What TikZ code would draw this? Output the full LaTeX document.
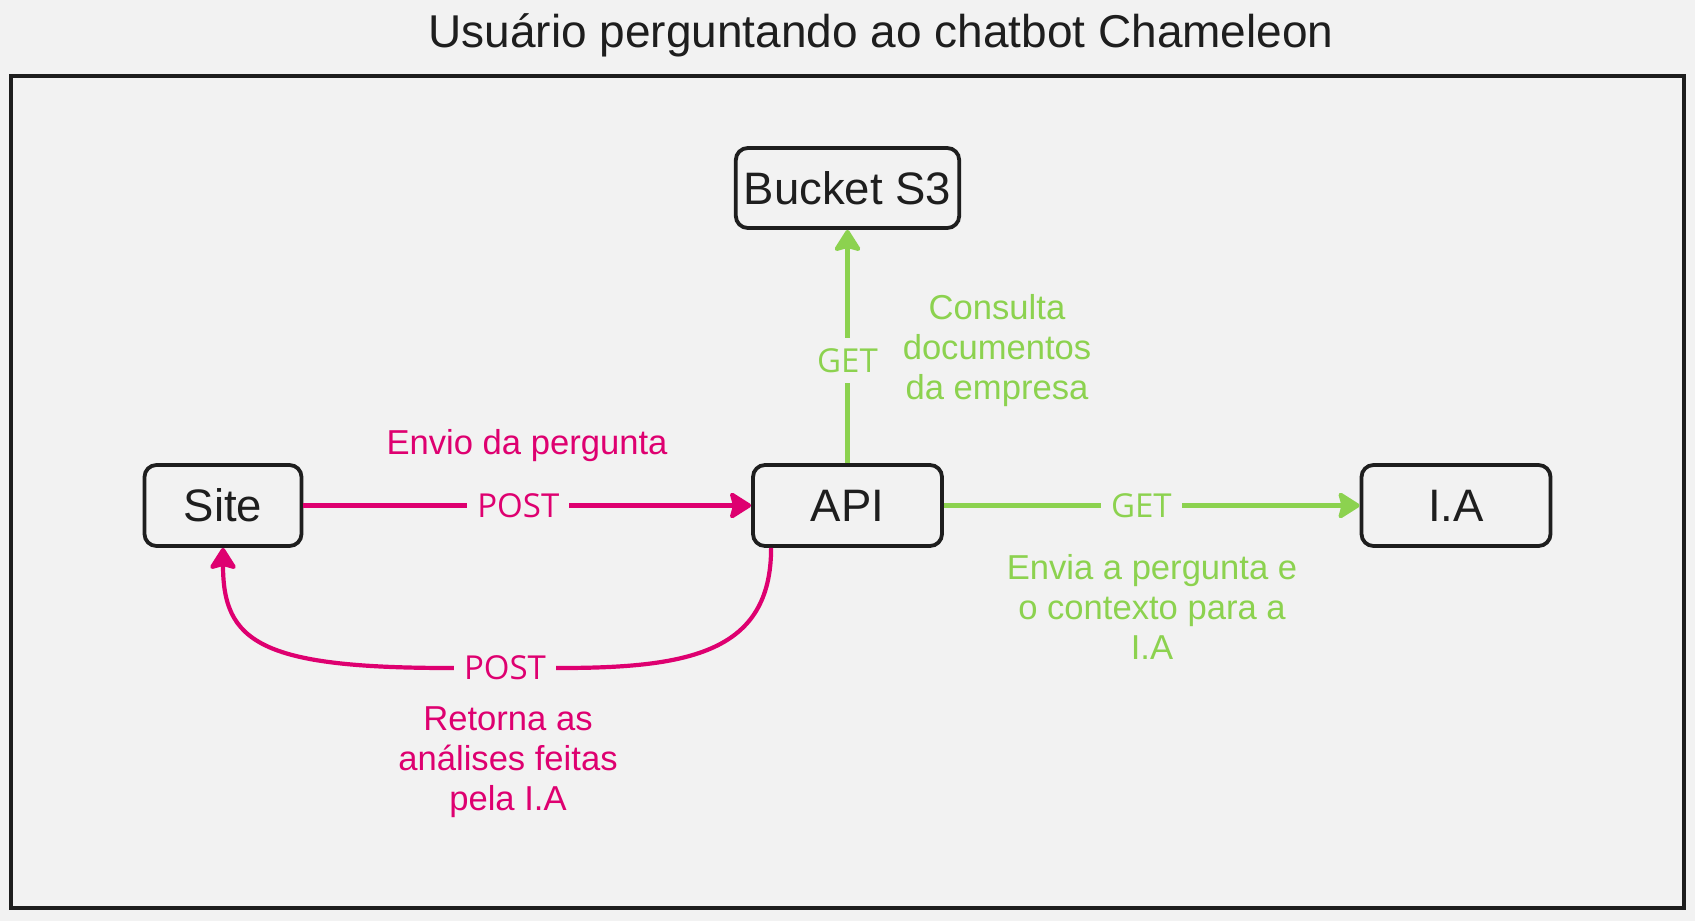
\documentclass[tikz,border=0pt]{standalone}
\usepackage{fontspec}
\setmainfont{Liberation Sans}
\newfontfamily\methodfont{Open Sans}
\usetikzlibrary{arrows.meta,calc,positioning}
\definecolor{bgpaper}{HTML}{F2F2F2}
\definecolor{boxline}{HTML}{1E1E1E}
\definecolor{postpink}{HTML}{DE0070}
\definecolor{getgreen}{HTML}{8CD24F}

\begin{document}
\begin{tikzpicture}[x=0.5pt,y=-0.5pt,
                    >={Stealth[length=12pt,width=15pt,inset=2pt,round]},
  service/.style={draw=boxline,line width=1.9pt,rounded corners=6pt,fill=bgpaper,
                  minimum height=40.5pt,inner sep=4pt,text=boxline,
                  font=\fontsize{22.75}{27}\selectfont},
  method/.style={fill=bgpaper,inner sep=5pt,font=\methodfont\fontsize{16.5}{20}\selectfont},
  note/.style={align=center,font=\fontsize{17.3}{20}\selectfont},
  pinkflow/.style={->,draw=postpink,line width=2.1pt,text=postpink},
  greenflow/.style={->,draw=getgreen,line width=2.1pt,text=getgreen}]

  % paper and frame
  \fill[bgpaper] (0,0) rectangle (1695,921);
  \useasboundingbox (0,0) rectangle (1695,921);
  \draw[boxline,line width=2pt] (11,76) rectangle (1684,908);
  \node[font=\fontsize{23}{27}\selectfont,text=boxline,anchor=base] (title) at (881,47)
       {Usuário perguntando ao chatbot Chameleon};

  % services
  \node[service,minimum width=78.5pt]  (site)   at (223,505.5)  {Site};
  \node[service,minimum width=94.5pt]  (api)    at (847.5,505.5) {API};
  \node[service,minimum width=94.5pt]  (ia)     at (1456,505.5) {I.A};
  \node[service,minimum width=111.5pt,minimum height=40pt] (bucket) at (847.5,188) {Bucket S3};

  % requests
  \draw[pinkflow]  (site) -- node[method,pos=0.48]  {POST} (api);
  \draw[greenflow] (api)  -- node[method,pos=0.475] {GET}  (ia);
  \draw[greenflow] (api)  -- node[method,pos=0.44]  {GET}  (bucket);

  % answer back to the site
  \coordinate (backR) at (560,668);
  \coordinate (backL) at (450,668);
  \draw[pinkflow] ($(api.south west)+(20,0)$) .. controls +(0,104) and +(130,0) .. (backR)
        -- node[method] {POST} (backL)
        .. controls +(-190,0) and +(0,94) .. (site.south);

  % notes
  \node[note,text=postpink] (askNote)  at (527,446)  {Envio da pergunta};
  \node[note,text=getgreen] (docsNote) at (997,351)  {Consulta\\documentos\\da empresa};
  \node[note,text=getgreen] (sendNote) at (1152,607) {Envia a pergunta e\\o contexto para a\\I.A};
  \node[note,text=postpink] (backNote) at (508,762)  {Retorna as\\análises feitas\\pela I.A};
\end{tikzpicture}
\end{document}
